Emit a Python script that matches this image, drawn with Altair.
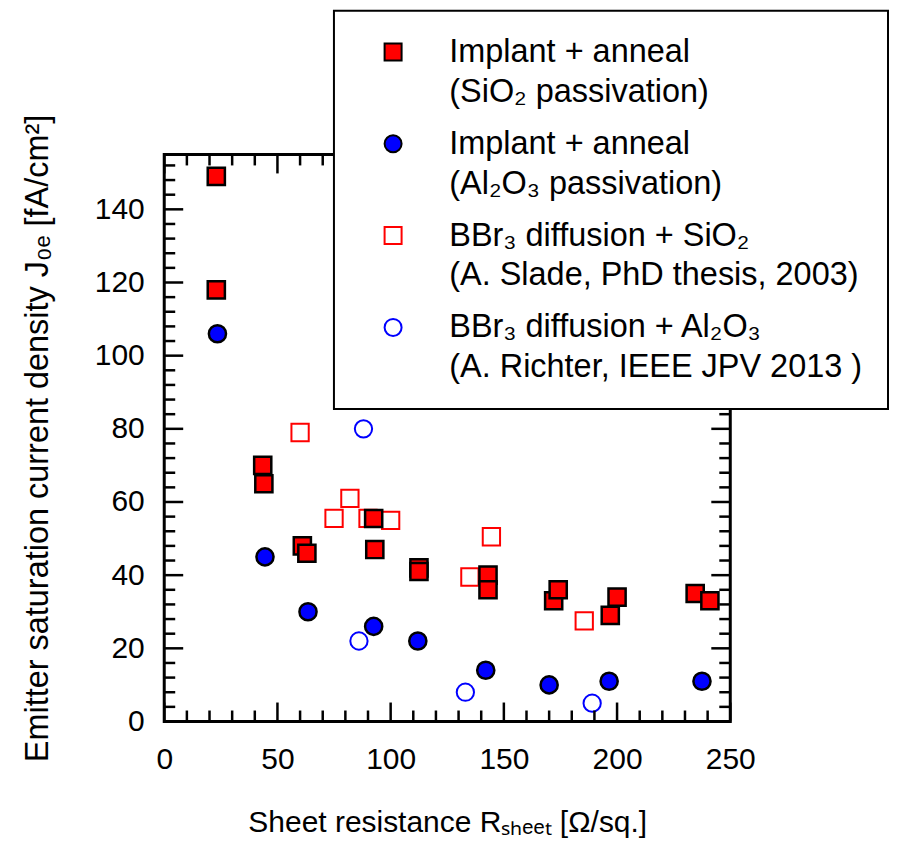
import altair as alt
import pandas as pd

FONT = "Liberation Sans, Arial, Helvetica, sans-serif"

series_names = [
    "Implant + anneal|(SiO₂ passivation)",
    "Implant + anneal|(Al₂O₃ passivation)",
    "BBr₃ diffusion + SiO₂|(A. Slade, PhD thesis, 2003)",
    "BBr₃ diffusion + Al₂O₃|(A. Richter, IEEE JPV 2013 )",
]

# Implant + anneal, SiO2 passivation (filled red squares)
imp_sio2_r = [23, 23, 43.5, 44, 61, 63, 92.5, 93, 112.5, 112.5, 143, 143, 172, 174, 197, 200, 234.5, 241]
imp_sio2_j = [149, 118, 70, 65, 48, 46, 55.5, 47, 42, 41, 40, 36, 33, 36, 29, 34, 35, 33]

# Implant + anneal, Al2O3 passivation (filled blue circles)
imp_al2o3_r = [23.5, 44.5, 63.5, 92.5, 112, 142, 170, 196.5, 237.5]
imp_al2o3_j = [106, 45, 30, 26, 22, 14, 10, 11, 11]

# BBr3 diffusion + SiO2 (open red squares)
bbr_sio2_r = [60, 75, 82, 90, 100, 135, 144.5, 185.5]
bbr_sio2_j = [79, 55.5, 61, 55.5, 55, 39.5, 50.5, 27.5]

# BBr3 diffusion + Al2O3 (open blue circles)
bbr_al2o3_r = [88, 86, 133, 189]
bbr_al2o3_j = [80, 22, 8, 5]

x_major = [0, 50, 100, 150, 200, 250]
x_minor = [10, 20, 30, 40, 60, 70, 80, 90, 110, 120, 130, 140, 160, 170, 180, 190, 210, 220, 230, 240]
y_major = [0, 20, 40, 60, 80, 100, 120, 140]
y_minor = [4, 8, 12, 16, 24, 28, 32, 36, 44, 48, 52, 56, 64, 68, 72, 76, 84, 88, 92, 96,
           104, 108, 112, 116, 124, 128, 132, 136, 144, 148, 152]

W, H = 567, 568
MAJ, MIN = 19, 11

df_filled = pd.concat([
    pd.DataFrame({"R": imp_sio2_r, "J": imp_sio2_j, "series": series_names[0]}),
    pd.DataFrame({"R": imp_al2o3_r, "J": imp_al2o3_j, "series": series_names[1]}),
])
df_open = pd.concat([
    pd.DataFrame({"R": bbr_sio2_r, "J": bbr_sio2_j, "series": series_names[2]}),
    pd.DataFrame({"R": bbr_al2o3_r, "J": bbr_al2o3_j, "series": series_names[3]}),
])

xs = alt.Scale(domain=[0, 250], nice=False, zero=False)
ys = alt.Scale(domain=[0, 155], nice=False, zero=False)

x_enc = alt.X("R:Q", scale=xs, axis=alt.Axis(
    values=x_major, ticks=False, domain=False, grid=False, labelFlush=False,
    labelFontSize=30, labelPadding=23, labelFont=FONT, labelColor="black",
    title="Sheet resistance Rₛₕₑₑₜ [Ω/sq.]", titleFont=FONT, titleFontSize=30,
    titleFontWeight="normal", titleColor="black", titlePadding=33))
y_enc = alt.Y("J:Q", scale=ys, axis=alt.Axis(
    values=y_major, ticks=False, domain=False, grid=False, labelFlush=False,
    labelFontSize=30, labelPadding=20, labelFont=FONT, labelColor="black",
    title="Emitter saturation current density J₀ₑ [fA/cm²]", titleFont=FONT, titleFontSize=32.5,
    titleFontWeight="normal", titleColor="black", titlePadding=40))

legend = alt.Legend(
    orient="none", legendX=170, legendY=-144, title=None, direction="vertical",
    labelExpr="split(datum.label, '|')", labelFont=FONT, labelFontSize=32.5,
    labelColor="black", labelLimit=2000, labelBaseline="middle",
    padding=25, strokeColor="black", fillColor="white", rowPadding=19,
    symbolSize=290, symbolStrokeWidth=2, symbolOffset=18, labelOffset=40)

shape_scale = alt.Scale(domain=series_names, range=["square", "circle", "square", "circle"])
fill_scale = alt.Scale(domain=series_names, range=["#ff0000", "#0000ff", "transparent", "transparent"])
stroke_scale = alt.Scale(domain=series_names, range=["#000000", "#000000", "#ff0000", "#0000ff"])

def enc(ch):
    return ch.encode(
        x=x_enc, y=y_enc,
        shape=alt.Shape("series:N", scale=shape_scale, legend=legend),
        fill=alt.Fill("series:N", scale=fill_scale, legend=legend),
        stroke=alt.Stroke("series:N", scale=stroke_scale, legend=legend),
    )

pts_filled = enc(alt.Chart(df_filled).mark_point(filled=True, size=295, strokeWidth=2.5, opacity=1))
pts_open = enc(alt.Chart(df_open).mark_point(filled=True, size=300, strokeWidth=2, opacity=1))

def yticks(vals, length):
    d = pd.DataFrame({"J": vals})
    left = alt.Chart(d).mark_rule(color="black", strokeWidth=2.5).encode(
        y=y_enc, x=alt.value(0), x2=alt.value(length))
    right = alt.Chart(d).mark_rule(color="black", strokeWidth=2.5).encode(
        y=y_enc, x=alt.value(W - length), x2=alt.value(W))
    return [left, right]

def xticks(vals, length):
    d = pd.DataFrame({"R": vals})
    bottom = alt.Chart(d).mark_rule(color="black", strokeWidth=2.5).encode(
        x=x_enc, y=alt.value(H), y2=alt.value(H - length))
    top = alt.Chart(d).mark_rule(color="black", strokeWidth=2.5).encode(
        x=x_enc, y=alt.value(0), y2=alt.value(length))
    return [bottom, top]

layers = [pts_open, pts_filled] + yticks(y_major, MAJ) + yticks(y_minor, MIN) + xticks(x_major, MAJ) + xticks(x_minor, MIN)

chart = alt.layer(*layers).properties(
    width=W, height=H,
    padding={"left": 12.5, "top": 1, "right": 0, "bottom": 0},
).configure(
    style={"guide-label": {"lineHeight": 40}}
).configure_view(
    stroke="black", strokeWidth=3
).configure_legend(
    strokeWidth=2
)

chart.save("out.html", embed_options={"renderer": "svg", "actions": False})
